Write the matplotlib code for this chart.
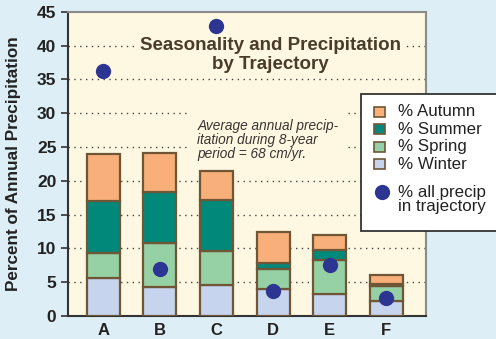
import matplotlib
matplotlib.use("Agg")
import matplotlib.pyplot as plt
from matplotlib.patches import Rectangle
from matplotlib.lines import Line2D
import numpy as np

plt.rcParams['font.family'] = ['Liberation Sans', 'DejaVu Sans']

# Trajectory groups and seasonal shares of annual precipitation (%)
trajectories = ["A", "B", "C", "D", "E", "F"]
winter = [5.6, 4.35, 4.65, 4.0, 3.25, 2.2]
spring = [3.7, 6.45, 4.95, 2.9, 5.1, 2.2]
summer = [7.7, 7.6, 7.6, 0.9, 1.35, 0.3]
autumn = [7.0, 5.75, 4.2, 4.6, 2.3, 1.4]
# Share of all precipitation arriving with each trajectory (%)
all_precip = [36.2, 6.95, 42.9, 3.7, 7.6, 2.65]

y_ticks = [0, 5, 10, 15, 20, 25, 30, 35, 40, 45]

fig_bg = "#ddeef6"
ax_bg = "#fef7e1"
edge = "#6e5636"
c_autumn = "#f8af7a"
c_summer = "#00897a"
c_spring = "#96d0a5"
c_winter = "#c6d4ee"
c_dot = "#2c3591"
c_text = "#4a3c28"

W, H = 496, 339
fig = plt.figure(figsize=(W / 100, H / 100), dpi=100, facecolor=fig_bg)
ax = fig.add_axes([67.5 / W, 1 - 316 / H, (426 - 67.5) / W, (316 - 11.7) / H])
ax.set_facecolor(ax_bg)

x = np.arange(len(trajectories))
bw = 0.58
bottom = np.zeros(len(x))
for vals, col in [(winter, c_winter), (spring, c_spring), (summer, c_summer), (autumn, c_autumn)]:
    ax.bar(x, vals, bw, bottom=bottom, color=col, edgecolor=edge, linewidth=1.6, zorder=3)
    bottom += np.array(vals)

ax.plot(x, all_precip, 'o', color=c_dot, markersize=11, markeredgewidth=0, zorder=5, clip_on=False)

ax.set_xlim(-0.63, 5.7)
ax.set_ylim(0, 45)
ax.set_yticks(y_ticks)
ax.set_yticklabels([str(t) for t in y_ticks], fontsize=12.5, fontweight='bold', color='#222222')
ax.set_xticks(x)
ax.set_xticklabels(trajectories, fontsize=12, fontweight='bold', color='#222222')
ax.tick_params(axis='y', length=5, width=1.2, color='#333333', pad=3)
ax.tick_params(axis='x', length=0, pad=5)

for yv in y_ticks[1:-1]:
    ax.axhline(yv, color='#444444', linewidth=1.0, linestyle=(0, (1, 3.2)), zorder=1)

for side in ['top', 'right']:
    ax.spines[side].set_color('#8a8a8a')
    ax.spines[side].set_linewidth(1.5)
for side in ['left', 'bottom']:
    ax.spines[side].set_color('#333333')
    ax.spines[side].set_linewidth(1.5)

ax.set_ylabel("Percent of Annual Precipitation", fontsize=12.3, fontweight='bold',
              color='#222222')
ax.yaxis.set_label_coords(-46 / (426 - 67.5), 0.5)

# Two-line heading; only the first line masks the gridline behind it
ax.text(0.565, 0.889, "Seasonality and Precipitation", transform=ax.transAxes,
        ha='center', va='center', fontsize=13.5, fontweight='bold', color=c_text, zorder=4,
        bbox=dict(boxstyle='square,pad=0.3', facecolor=ax_bg, edgecolor='none'))
ax.text(0.565, 0.825, "by Trajectory", transform=ax.transAxes,
        ha='center', va='center', fontsize=13.5, fontweight='bold', color=c_text, zorder=4)

ax.text(0.362, 0.579, "Average annual precip-\nitation during 8-year\nperiod = 68 cm/yr.",
        transform=ax.transAxes, ha='left', va='center', fontsize=9.8, fontstyle='italic',
        color='#3a3230', linespacing=1.02, zorder=4,
        bbox=dict(boxstyle='square,pad=0.45', facecolor=ax_bg, edgecolor='none'))

# Legend panel, drawn in figure pixel space
def fx(px):
    return px / W

def fy(py):
    return 1 - py / H

fig.patches.append(Rectangle((fx(361), fy(231)), fx(W + 10) - fx(361), fy(93.5) - fy(231),
                             transform=fig.transFigure, facecolor='white', edgecolor='#333333',
                             linewidth=1.3, zorder=10))
leg_items = [("% Autumn", c_autumn), ("% Summer", c_summer), ("% Spring", c_spring), ("% Winter", c_winter)]
for i, (lab, col) in enumerate(leg_items):
    yc = 112 + i * 17.4
    fig.patches.append(Rectangle((fx(373.5), fy(yc + 5)), fx(11.5), 10 / H, transform=fig.transFigure,
                                 facecolor=col, edgecolor=edge, linewidth=1.2, zorder=11))
    fig.text(fx(397.5), fy(yc), lab, fontsize=12.2, color='#222222', va='center', ha='left', zorder=12)
fig.lines.append(Line2D([fx(381.5)], [fy(191.5)], marker='o', markersize=11, color=c_dot,
                        markeredgewidth=0, transform=fig.transFigure, zorder=12))
fig.text(fx(397.5), fy(199.5), "% all precip\nin trajectory", fontsize=12.2, color='#222222',
         va='center', ha='left', linespacing=0.92, zorder=12)

fig.savefig("out.png", dpi=100, facecolor=fig_bg)
